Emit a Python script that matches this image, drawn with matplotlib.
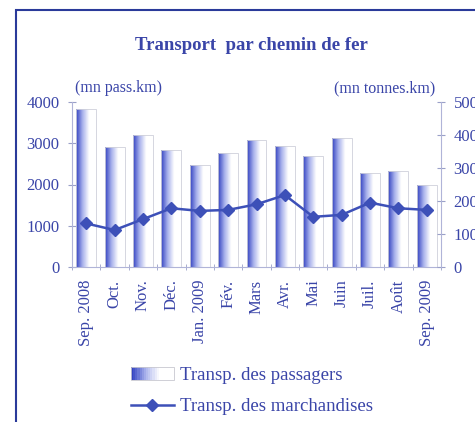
import numpy as np
import matplotlib
matplotlib.use("Agg")
import matplotlib.pyplot as plt
from matplotlib.colors import LinearSegmentedColormap
from matplotlib.patches import Rectangle
from matplotlib.lines import Line2D
from matplotlib.legend_handler import HandlerBase

plt.rcParams['font.family'] = ['Liberation Serif', 'DejaVu Serif']

months = ["Sep. 2008", "Oct.", "Nov.", "Déc.", "Jan. 2009", "Fév.", "Mars",
          "Avr.", "Mai", "Juin", "Juil.", "Août", "Sep. 2009"]
passagers = [3820, 2920, 3200, 2840, 2470, 2770, 3080, 2930, 2700, 3130, 2270, 2330, 1990]
marchandises = [132, 112, 145, 178, 170, 173, 190, 218, 152, 158, 195, 178, 173]

txt_col = "#3a45a8"
bar_col = "#3343c2"
line_col = "#3d50b8"
cmap = LinearSegmentedColormap.from_list("grad", [bar_col, "#aab3ec", "white", "white"])


class GradHandler(HandlerBase):
    def create_artists(self, legend, orig, xd, yd, w, h, fs, trans):
        n = 20
        arts = []
        for k in range(n):
            r = Rectangle((xd + k * w / n, yd), w / n + 0.3, h,
                          facecolor=cmap(k / (n - 1)), edgecolor="none", transform=trans)
            arts.append(r)
        arts.append(Rectangle((xd, yd), w, h, facecolor="none",
                              edgecolor="#c8c8d0", lw=0.6, transform=trans))
        return arts


fig = plt.figure(figsize=(4.75, 4.22), dpi=100)
ax = fig.add_axes([72 / 475, 1 - 267 / 422, 369 / 475, 165 / 422])

x = np.arange(len(months))
bars = ax.bar(x, passagers, width=0.7, facecolor="none", edgecolor="#cfd0da", lw=0.6, zorder=3)
grad = np.linspace(0, 1, 64).reshape(1, -1)
for b in bars:
    im = ax.imshow(grad, cmap=cmap, aspect="auto", zorder=2,
                   extent=[b.get_x(), b.get_x() + b.get_width(), 0, b.get_height()])
    im.set_clip_path(b)

ax.set_xlim(-0.5, len(months) - 0.5)
ax.set_ylim(0, 4000)
ax.set_yticks(np.arange(0, 4001, 1000))
ax.set_xticks(x)
ax.set_xticklabels(months, rotation=90, fontsize=12, color=txt_col)
ax.set_xticks(np.arange(-0.5, len(months), 1), minor=True)
ax.tick_params(axis="x", which="major", length=0, pad=9)
ax.tick_params(axis="x", which="minor", length=4, direction="inout", color="#9aa0c8")
ax.tick_params(axis="y", labelsize=12, labelcolor=txt_col, length=6,
               direction="inout", color="#9aa0c8", pad=6)
for s in ["top", "right"]:
    ax.spines[s].set_visible(False)
for s in ["left", "bottom"]:
    ax.spines[s].set_color("#b0b4d8")
    ax.spines[s].set_linewidth(0.8)

ax2 = ax.twinx()
ax2.plot(x, marchandises, color=line_col, lw=1.8, marker="D", markersize=6.5,
         markerfacecolor=line_col, markeredgecolor=line_col, zorder=5)
ax2.set_ylim(0, 500)
ax2.set_yticks(np.arange(0, 501, 100))
ax2.tick_params(axis="y", labelsize=12, labelcolor=txt_col, length=6,
                direction="inout", color="#9aa0c8", pad=6)
for s in ["top", "left", "bottom"]:
    ax2.spines[s].set_visible(False)
ax2.spines["right"].set_color("#b0b4d8")
ax2.spines["right"].set_linewidth(0.8)

fig.text(251 / 475, 1 - 45 / 422, "Transport  par chemin de fer", ha="center", va="center",
         fontsize=13.5, fontweight="bold", color=txt_col)
fig.text(75 / 475, 1 - 88 / 422, "(mn pass.km)", ha="left", va="center",
         fontsize=11.5, color=txt_col)
fig.text(435 / 475, 1 - 88 / 422, "(mn tonnes.km)", ha="right", va="center",
         fontsize=11.5, color=txt_col)

h1 = Rectangle((0, 0), 1, 1)
h2 = Line2D([], [], color=line_col, lw=1.8, marker="D", markersize=6.5)
leg = fig.legend([h1, h2], ["Transp. des passagers", "Transp. des marchandises"],
                 loc="upper left", bbox_to_anchor=(114 / 475, 1 - 350 / 422),
                 frameon=False, fontsize=13.5, handlelength=2.3, handletextpad=0.3,
                 labelspacing=0.75, handler_map={Rectangle: GradHandler()})
for t in leg.get_texts():
    t.set_color(txt_col)

fig.patches.append(Rectangle((16 / 475, -0.1), 1.2, 1.1 - 10 / 422, transform=fig.transFigure,
                             facecolor="none", edgecolor="#2a3a9a", lw=1.5))

fig.savefig("out.png", dpi=100)
